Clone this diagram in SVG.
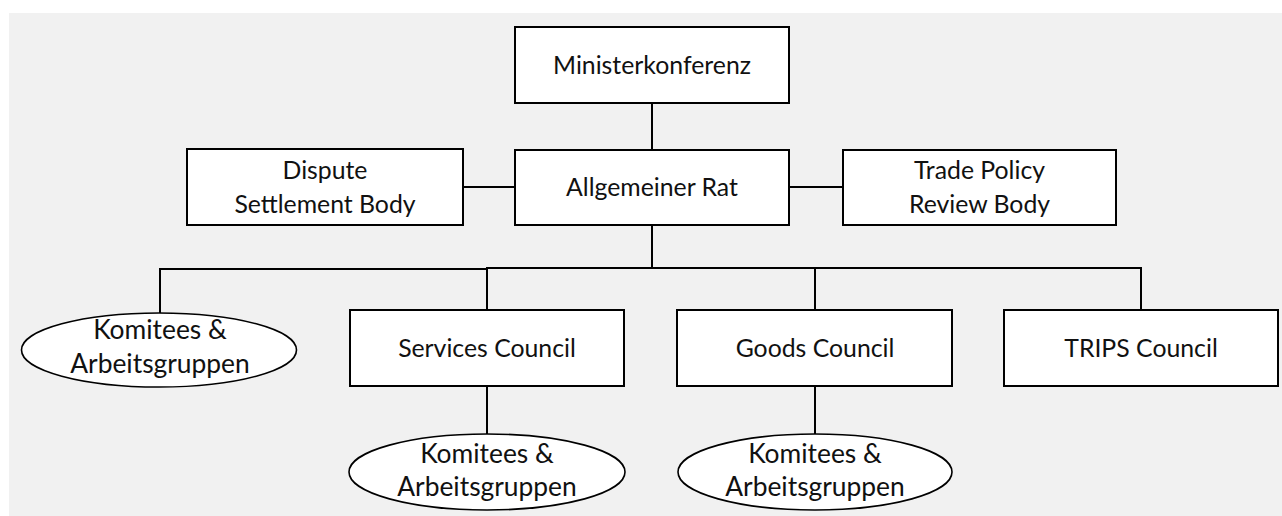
<svg xmlns="http://www.w3.org/2000/svg" width="1282" height="516" viewBox="0 0 1282 516">
<style>
.box{fill:#ffffff;stroke:#000;stroke-width:2}
.ell{fill:#ffffff;stroke:#000;stroke-width:1.6}
.t{font-family:Lato,"Liberation Sans",sans-serif;font-size:24.8px;fill:#111;text-anchor:middle}
.te{font-family:Lato,"Liberation Sans",sans-serif;font-size:26.4px;fill:#111;text-anchor:middle}
.c{stroke:#000;stroke-width:2;fill:none}
</style>
<rect x="0" y="0" width="1282" height="516" fill="#ffffff"/>
<rect x="9" y="13" width="1273" height="503" fill="#f1f1f1"/>
<g id="connectors">
<line class="c" x1="652" y1="103" x2="652" y2="150"/>
<line class="c" x1="463" y1="187" x2="515" y2="187"/>
<line class="c" x1="789" y1="187" x2="843" y2="187"/>
<line class="c" x1="652" y1="225" x2="652" y2="268"/>
<polyline class="c" points="160,313 160,269 487,269"/>
<line class="c" x1="486" y1="268" x2="1142" y2="268"/>
<line class="c" x1="487" y1="268" x2="487" y2="310"/>
<line class="c" x1="815" y1="268" x2="815" y2="310"/>
<line class="c" x1="1141" y1="267" x2="1141" y2="310"/>
<line class="c" x1="487" y1="386" x2="487" y2="434"/>
<line class="c" x1="815" y1="386" x2="815" y2="434"/>
</g>
<g id="ministerkonferenz">
<rect class="box" x="515" y="27" width="274" height="76"/>
<text class="t" x="652" y="74">Ministerkonferenz</text>
</g>
<g id="allgemeiner-rat">
<rect class="box" x="515" y="150" width="274" height="75"/>
<text class="t" x="652" y="196">Allgemeiner Rat</text>
</g>
<g id="dispute-settlement-body">
<rect class="box" x="187" y="149" width="276" height="76"/>
<text class="t" x="325" y="179">Dispute</text>
<text class="t" x="325" y="213">Settlement Body</text>
</g>
<g id="trade-policy-review-body">
<rect class="box" x="843" y="150" width="273" height="75"/>
<text class="t" x="979.5" y="179">Trade Policy</text>
<text class="t" x="979.5" y="213">Review Body</text>
</g>
<g id="komitees-1">
<ellipse class="ell" cx="159" cy="350" rx="137.5" ry="37"/>
<text class="te" x="160" y="339">Komitees &amp;</text>
<text class="te" x="160" y="373">Arbeitsgruppen</text>
</g>
<g id="services-council">
<rect class="box" x="350" y="310" width="274" height="76"/>
<text class="t" x="487" y="357">Services Council</text>
</g>
<g id="goods-council">
<rect class="box" x="677" y="310" width="275" height="76"/>
<text class="t" x="815" y="357">Goods Council</text>
</g>
<g id="trips-council">
<rect class="box" x="1004" y="310" width="274" height="76"/>
<text class="t" x="1141" y="357">TRIPS Council</text>
</g>
<g id="komitees-2">
<ellipse class="ell" cx="487" cy="472" rx="138" ry="38"/>
<text class="te" x="487" y="463">Komitees &amp;</text>
<text class="te" x="487" y="496">Arbeitsgruppen</text>
</g>
<g id="komitees-3">
<ellipse class="ell" cx="815" cy="472" rx="137" ry="38"/>
<text class="te" x="815" y="463">Komitees &amp;</text>
<text class="te" x="815" y="496">Arbeitsgruppen</text>
</g>
</svg>
